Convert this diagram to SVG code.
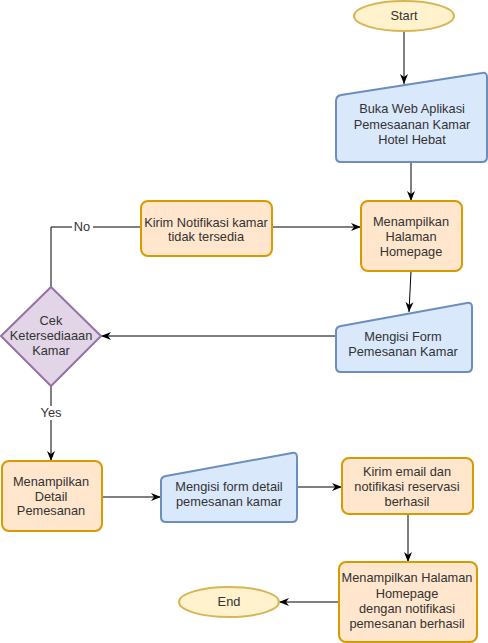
<svg xmlns="http://www.w3.org/2000/svg" width="488" height="643" viewBox="0 0 488 643">
<style>
text{font-family:"Liberation Sans",Arial,sans-serif;font-size:12.8px;fill:#333;text-anchor:middle}
.or{fill:#ffe6cc;stroke:#d79b00;stroke-width:2}
.bl{fill:#dae8fc;stroke:#6c8ebf;stroke-width:2}
.ye{fill:#fff2cc;stroke:#d6b656;stroke-width:2}
.pu{fill:#e1d5e7;stroke:#9673a6;stroke-width:2}
.ed{fill:none;stroke:#000;stroke-width:1}
.lbl{fill:#fff;stroke:none}
</style>
<defs>
<marker id="ar" markerUnits="userSpaceOnUse" markerWidth="10" markerHeight="10" viewBox="0 0 10 10" refX="10" refY="5" orient="auto">
<path d="M0,1 L10,5 L0,9 L3,5 Z" fill="#000"/>
</marker>
</defs>
<g id="connectors">
<path class="ed" d="M404,31 V84" marker-end="url(#ar)"/>
<path class="ed" d="M411,162 V201" marker-end="url(#ar)"/>
<path class="ed" d="M411,271 L409,312" marker-end="url(#ar)"/>
<path class="ed" d="M272,227 H361" marker-end="url(#ar)"/>
<path class="ed" d="M141,227 H51 V287"/>
<path class="ed" d="M336,336 H101" marker-end="url(#ar)"/>
<path class="ed" d="M51,386 V461" marker-end="url(#ar)"/>
<path class="ed" d="M102,497 H161" marker-end="url(#ar)"/>
<path class="ed" d="M297,487 H342" marker-end="url(#ar)"/>
<path class="ed" d="M408,514 V562" marker-end="url(#ar)"/>
<path class="ed" d="M339,602 H279" marker-end="url(#ar)"/>
<rect class="lbl" x="72" y="220" width="21" height="14"/>
<text x="82" y="231">No</text>
<rect class="lbl" x="39" y="406" width="24" height="14"/>
<text x="51" y="417">Yes</text>
</g>
<g id="start">
<ellipse class="ye" cx="404" cy="16" rx="50" ry="15"/>
<text x="404" y="20">Start</text>
</g>
<g id="buka">
<path class="bl" d="M336,101 Q336,96 341,95 L482,73 Q487,72 487,77 L487,157 Q487,162 482,162 L341,162 Q336,162 336,157 Z"/>
<text x="412" y="113">Buka Web Aplikasi</text>
<text x="412" y="129">Pemesaanan Kamar</text>
<text x="412" y="144">Hotel Hebat</text>
</g>
<g id="homepage">
<rect class="or" x="361" y="201" width="101" height="70" rx="7"/>
<text x="411" y="226">Menampilkan</text>
<text x="411" y="241">Halaman</text>
<text x="411" y="256">Homepage</text>
</g>
<g id="kirim-notif">
<rect class="or" x="141" y="201" width="131" height="55" rx="7"/>
<text x="206" y="227">Kirim Notifikasi kamar</text>
<text x="206" y="241">tidak tersedia</text>
</g>
<g id="cek">
<path class="pu" d="M51,287 L101,336 L51,386 L1,336 Z"/>
<text x="51" y="325">Cek</text>
<text x="51" y="340">Ketersediaaan</text>
<text x="51" y="355">Kamar</text>
</g>
<g id="mengisi-form">
<path class="bl" d="M336,331 Q336,327 341,326 L467,303 Q472,302 472,307 L472,367 Q472,372 467,372 L341,372 Q336,372 336,367 Z"/>
<text x="403" y="341">Mengisi Form</text>
<text x="403" y="356">Pemesanan Kamar</text>
</g>
<g id="detail">
<rect class="or" x="2" y="461" width="100" height="70" rx="7"/>
<text x="51" y="486">Menampilkan</text>
<text x="51" y="501">Detail</text>
<text x="51" y="515">Pemesanan</text>
</g>
<g id="form-detail">
<path class="bl" d="M161,481 Q161,477 166,476 L292,453 Q297,452 297,457 L297,517 Q297,522 292,522 L166,522 Q161,522 161,517 Z"/>
<text x="229" y="491">Mengisi form detail</text>
<text x="229" y="506">pemesanan kamar</text>
</g>
<g id="kirim-email">
<rect class="or" x="342" y="458" width="131" height="56" rx="7"/>
<text x="407" y="476">Kirim email dan</text>
<text x="407" y="491">notifikasi reservasi</text>
<text x="407" y="506">berhasil</text>
</g>
<g id="homepage-notif">
<rect class="or" x="339" y="562" width="138" height="80" rx="7"/>
<text x="407" y="582">Menampilkan Halaman</text>
<text x="407" y="598">Homepage</text>
<text x="407" y="613">dengan notifikasi</text>
<text x="407" y="628">pemesanan berhasil</text>
</g>
<g id="end">
<ellipse class="ye" cx="229" cy="602" rx="50" ry="15"/>
<text x="229" y="606">End</text>
</g>
</svg>
